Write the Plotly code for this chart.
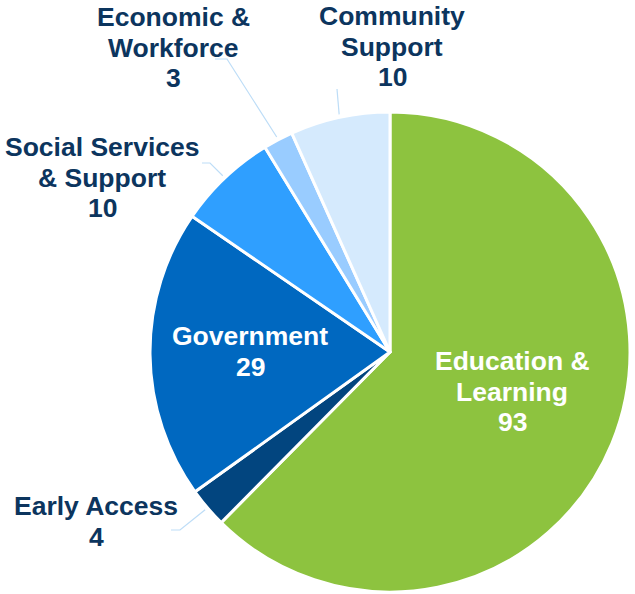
import math
import plotly.graph_objects as go

# ---- data ----
categories = ["Education & Learning", "Early Access", "Government",
              "Social Services & Support", "Economic & Workforce", "Community Support"]
label_lines = [["Education &", "Learning"], ["Early Access"], ["Government"],
               ["Social Services", "& Support"], ["Economic &", "Workforce"], ["Community", "Support"]]
values = [93, 4, 29, 10, 3, 10]

# ---- style ----
colors = ["#8DC33F", "#02457F", "#0068C0", "#2F9FFF", "#99CCFF", "#D5EAFD"]
W, H = 635, 594
CX, CY, R = 390, 352, 240
FONT = "Arial, Liberation Sans, sans-serif"
TXT_DARK = "#0C355E"
LEADER = "#BDDDF7"
FS = 26.5
LINE_H = 30.5

# label layout (pixel positions of the first line centre) and leader elbows
label_pos = {
    "Education & Learning": (512, 361, "inside"),
    "Government": (250, 336, "inside"),
    "Early Access": (96, 506, "outside"),
    "Social Services & Support": (102, 147, "outside"),
    "Economic & Workforce": (173, 17, "outside"),
    "Community Support": (392, 16, "outside"),
}
leader_pts = {
    "Early Access": [(180, 530), (171, 530)],
    "Social Services & Support": [(210, 163), (202, 163)],
    "Economic & Workforce": [(227, 59), (215, 59)],
    "Community Support": [(337, 89)],
}

def px(x):
    return x / W

def py(y):
    return 1 - y / H

fig = go.Figure()
fig.add_trace(go.Pie(
    labels=categories, values=values, sort=False, direction="clockwise", rotation=0,
    marker=dict(colors=colors, line=dict(color="white", width=3)),
    textinfo="none", hoverinfo="label+value", showlegend=False,
    domain=dict(x=[px(CX - R), px(CX + R)], y=[py(CY + R), py(CY - R)]),
))

annotations = []
shapes = []
total = sum(values)
cum = 0
for cat, lines, v in zip(categories, label_lines, values):
    mid = (cum + v / 2) / total * 2 * math.pi
    cum += v
    x0, y0, kind = label_pos[cat]
    color = "white" if kind == "inside" else TXT_DARK
    for i, t in enumerate(lines + [str(v)]):
        annotations.append(dict(
            x=px(x0), y=py(y0 + i * LINE_H), xref="paper", yref="paper",
            text="<b>" + t + "</b>", showarrow=False, xanchor="center", yanchor="middle",
            font=dict(family=FONT, size=FS, color=color),
        ))
    if cat in leader_pts:
        sx = CX + (R + 3) * math.sin(mid)
        sy = CY - (R + 3) * math.cos(mid)
        pts = [(sx, sy)] + leader_pts[cat]
        path = "M " + " L ".join(f"{px(a)},{py(b)}" for a, b in pts)
        shapes.append(dict(type="path", path=path, xref="paper", yref="paper",
                           line=dict(color=LEADER, width=1.2)))

fig.update_layout(
    width=W, height=H, margin=dict(l=0, r=0, t=0, b=0),
    paper_bgcolor="white", plot_bgcolor="white",
    annotations=annotations, shapes=shapes,
)
fig.write_html("out.html", config={"displayModeBar": False},
               post_script="document.body.style.margin='0';")
